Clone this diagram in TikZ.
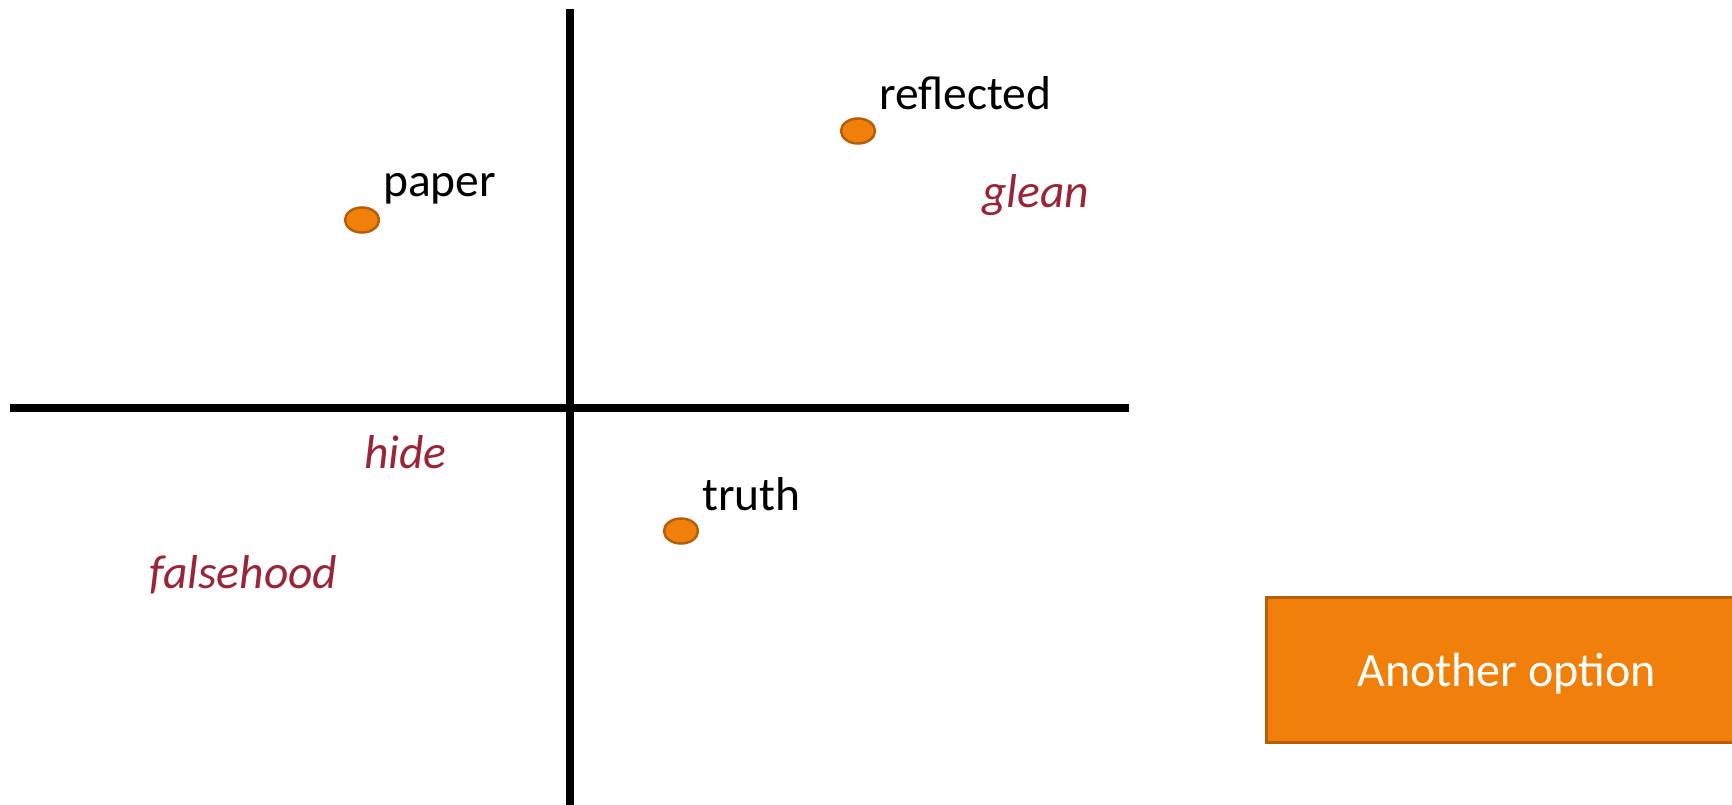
\documentclass[tikz,border=0pt]{standalone}
\usepackage{fontspec}
\setmainfont{Carlito}
\usetikzlibrary{shapes.geometric}
\definecolor{dotfill}{RGB}{240,128,10}
\definecolor{dotline}{RGB}{180,96,10}
\definecolor{wordred}{RGB}{152,38,56}
\begin{document}
\begin{tikzpicture}[x=1pt,y=-1pt,
  axis/.style={line width=7.5pt,black},
  dotmark/.style={ellipse,minimum width=34pt,minimum height=25pt,inner sep=0pt,fill=dotfill,draw=dotline,line width=2.5pt},
  blacklabel/.style={anchor=base west,inner sep=0pt,font=\fontsize{47.5}{57}\selectfont,text=black},
  redlabel/.style={anchor=base west,inner sep=0pt,font=\fontsize{47.5}{57}\selectfont\itshape,text=wordred},
  optbox/.style={rectangle,fill=dotfill,draw=dotline,line width=3pt,inner sep=0pt}
]
\useasboundingbox (0,0) rectangle (1732,805);
\clip (0,0) rectangle (1732,805);
\coordinate (vtop) at (570,9);
\coordinate (vbot) at (570,805);
\coordinate (hleft) at (10,408);
\coordinate (hright) at (1129,408);
\draw[axis] (vtop) -- (vbot);
\draw[axis] (hleft) -- (hright);
\node[dotmark] (dpaper) at (362,220) {};
\node[dotmark] (drefl) at (858,131) {};
\node[dotmark] (dtruth) at (681,531) {};
\node[blacklabel] (tpaper) at (383,197) {paper};
\node[blacklabel] (trefl) at (879,110) {reflected};
\node[blacklabel] (ttruth) at (702,510) {truth};
\node[redlabel] (tglean) at (982,208) {glean};
\node[redlabel] (thide) at (364,468) {hide};
\node[redlabel] (tfalse) at (149,588) {falsehood};
\node[optbox,anchor=north west,minimum width=480pt,minimum height=145pt] (box) at (1265,596) {};
\node[anchor=base west,inner sep=0pt,font=\fontsize{48}{58}\selectfont,text=white] (boxtext) at (1357,686) {Another option};
\end{tikzpicture}
\end{document}
